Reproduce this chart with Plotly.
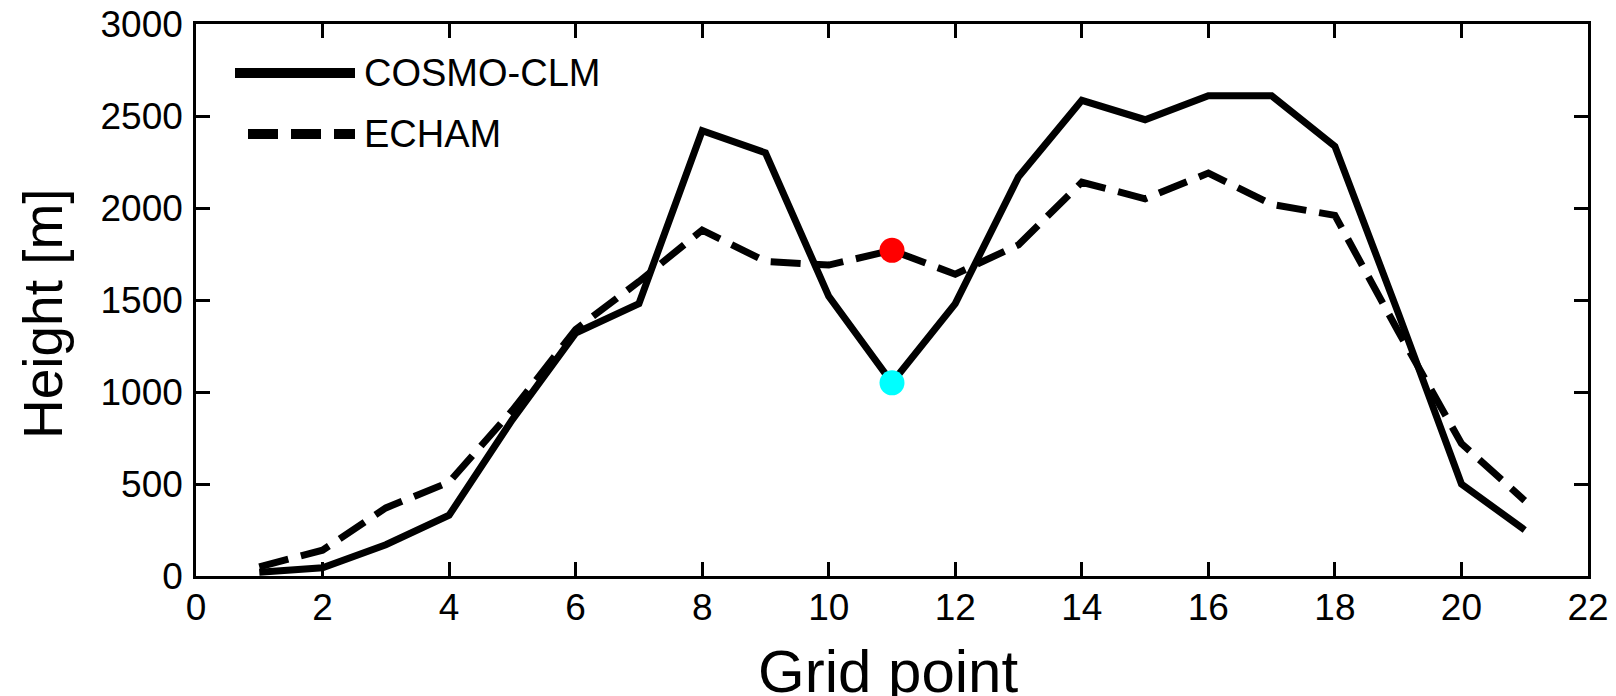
import plotly.graph_objects as go

# ---- data ----
grid_points = list(range(1, 22))
cosmo_clm = [20, 45, 170, 330, 850, 1320, 1480, 2420, 2300, 1520, 1050, 1480,
             2170, 2585, 2480, 2610, 2610, 2335, 1430, 500, 250]
echam = [50, 140, 370, 510, 900, 1340, 1600, 1880, 1710, 1690, 1770, 1640,
         1800, 2140, 2050, 2190, 2020, 1960, 1330, 720, 410]
highlight_point = 11
x_ticks = list(range(0, 23, 2))
y_ticks = list(range(0, 3001, 500))
series_names = ["COSMO-CLM", "ECHAM"]
x_title = "Grid point"
y_title = "Height [m]"

FONT = "Liberation Sans, Arial, Helvetica, sans-serif"
LW = 7
DASH = "30px,13px"

# page is offset by the default 8px body margin
OFF = 8
PAGE_W, PAGE_H = 1616, 696
W, H = PAGE_W - OFF, PAGE_H - OFF
# plot area in page pixels
PL, PR, PT, PB = 196, 1588, 24, 576
L, R, T, B = PL - OFF, PAGE_W - PR, PT - OFF, PAGE_H - PB
pw, ph = W - L - R, H - T - B

def px(xp):
    return (xp - PL) / pw

def py(yp):
    return 1 - (yp - PT) / ph

fig = go.Figure()
fig.add_trace(go.Scatter(x=grid_points, y=cosmo_clm, mode="lines", name=series_names[0],
                         line=dict(color="black", width=LW), showlegend=False))
fig.add_trace(go.Scatter(x=grid_points, y=echam, mode="lines", name=series_names[1],
                         line=dict(color="black", width=LW, dash=DASH), showlegend=False))

hi = grid_points.index(highlight_point)
fig.add_trace(go.Scatter(x=[grid_points[hi]], y=[echam[hi]], mode="markers",
                         marker=dict(color="red", size=25, line=dict(width=0)), showlegend=False))
fig.add_trace(go.Scatter(x=[grid_points[hi]], y=[cosmo_clm[hi]], mode="markers",
                         marker=dict(color="cyan", size=25, line=dict(width=0)), showlegend=False))

# ---- manual legend ----
legend_rows = [(73, "solid", series_names[0]), (134, DASH, series_names[1])]
for yrow, dash, label in legend_rows:
    x0 = 235 if dash == "solid" else 248
    fig.add_shape(type="line", xref="paper", yref="paper",
                  x0=px(x0), x1=px(355), y0=py(yrow), y1=py(yrow),
                  line=dict(color="black", width=10, dash=dash))
    fig.add_annotation(xref="paper", yref="paper", x=px(362), y=py(yrow),
                       xanchor="left", yanchor="middle", text=label, showarrow=False,
                       font=dict(family=FONT, size=38, color="black"))

# ---- axis titles ----
fig.add_annotation(xref="paper", yref="paper", x=px(888), y=py(671),
                   xanchor="center", yanchor="middle", text=x_title, showarrow=False,
                   font=dict(family=FONT, size=60, color="black"))
fig.add_annotation(xref="paper", yref="paper", x=px(43), y=py(314),
                   xanchor="center", yanchor="middle", text=y_title, showarrow=False,
                   textangle=-90, font=dict(family=FONT, size=55, color="black"))

axis_common = dict(showline=True, linecolor="black", linewidth=2.5, mirror="ticks",
                   ticks="inside", ticklen=14, tickwidth=2.5, tickcolor="black",
                   showgrid=False, zeroline=False, ticklabeloverflow="allow",
                   tickfont=dict(family=FONT, size=37, color="black"))

fig.update_layout(
    width=W, height=H,
    margin=dict(l=L, r=R, t=T, b=B, autoexpand=False),
    paper_bgcolor="white", plot_bgcolor="white",
    showlegend=False,
    xaxis=dict(range=[0, 22], tickvals=x_ticks, ticktext=[str(v) for v in x_ticks],
               ticklabelstandoff=-3, **axis_common),
    yaxis=dict(range=[0, 3000], tickvals=y_ticks, ticktext=[str(v) for v in y_ticks],
               ticklabelstandoff=3, **axis_common),
)

fig.write_html("out.html")
